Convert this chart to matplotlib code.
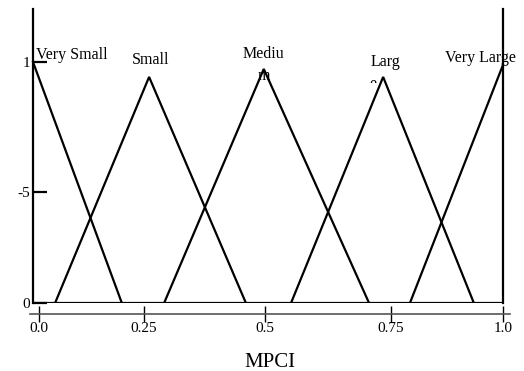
import matplotlib
matplotlib.use('Agg')
import matplotlib.pyplot as plt
from matplotlib.patches import Rectangle

plt.rcParams['font.family'] = ['Liberation Serif', 'DejaVu Serif']

# ------------------------------------------------------------
# membership functions (x on MPCI scale, y = membership)
# ------------------------------------------------------------
vs_x = [0.0, 0.189]
vs_y = [1.0, 0.0]
small_x = [0.047, 0.247, 0.453]
small_y = [0.0, 0.938, 0.0]
medium_x = [0.279, 0.491, 0.715]
medium_y = [0.0, 0.971, 0.0]
large_x = [0.549, 0.745, 0.938]
large_y = [0.0, 0.938, 0.0]
vl_x = [0.802, 1.0]
vl_y = [0.0, 0.988]

x_tick_pos = [0.013, 0.236, 0.494, 0.762, 1.0]
x_tick_labels = ['0.0', '0.25', '0.5', '0.75', '1.0']
y_tick_pos = [0.0, 0.46, 1.0]
y_tick_labels = ['0', '-5', '1']

W, H = 524, 371
fig = plt.figure(figsize=(W / 100, H / 100), dpi=100)
# axes: pixel x 30..510, pixel y 9..303 (from top)
ax = fig.add_axes([30 / W, (H - 303) / H, 480 / W, 294 / H])
ax.set_xlim(-3 / 470, 477 / 470)
ax.set_ylim(0, 294 / 241)

lw = 1.6
for xs, ys in [(vs_x, vs_y), (small_x, small_y), (medium_x, medium_y),
               (large_x, large_y), (vl_x, vl_y)]:
    ax.plot(xs, ys, color='black', lw=lw, solid_joinstyle='miter', zorder=3)
ax.hlines(0, 0, 1, color='black', lw=lw, zorder=3)

# frame lines
ax.spines['top'].set_visible(False)
ax.spines['left'].set_position(('data', 0))
ax.spines['right'].set_position(('data', 1))
for s in ['left', 'right']:
    ax.spines[s].set_linewidth(lw)
    ax.spines[s].set_zorder(4)
ax.spines['bottom'].set_position(('outward', 8))
ax.spines['bottom'].set_color('#555555')
ax.spines['bottom'].set_linewidth(1.2)

ax.set_xticks(x_tick_pos)
ax.set_xticklabels(x_tick_labels, fontsize=11)
ax.tick_params(axis='x', direction='inout', length=11, width=1, pad=0)
ax.set_yticks(y_tick_pos)
ax.set_yticklabels(y_tick_labels, fontsize=11)
ax.tick_params(axis='y', direction='in', length=10, width=lw, pad=2)
ax.yaxis.set_ticks_position('left')

ax.set_xlabel('MPCI', fontsize=15, labelpad=13)

# term labels
fs = 11.5
ax.text(0.006, 1.03, 'Very Small', fontsize=fs, ha='left', va='center', zorder=2)
ax.text(0.251, 1.008, 'Small', fontsize=fs, ha='center', va='center', zorder=2)
ax.text(0.491, 1.033, 'Mediu', fontsize=fs, ha='center', va='center', zorder=2)
ax.text(0.491, 0.942, 'm', fontsize=fs, ha='center', va='center', zorder=2)
ax.text(0.749, 1.0, 'Larg', fontsize=fs, ha='center', va='center', zorder=2)
# the wrapped "e" is cut off in the original, only its top shows
e_txt = ax.text(0.723, 0.909, 'e', fontsize=fs, ha='center', va='center',
                zorder=2, clip_on=True)
clip = Rectangle((0.70, 0.913), 0.05, 0.1, transform=ax.transData)
e_txt.set_clip_path(clip)
ax.text(0.953, 1.017, 'Very Large', fontsize=fs, ha='center', va='center', zorder=2)

fig.savefig('out.png', dpi=100)
